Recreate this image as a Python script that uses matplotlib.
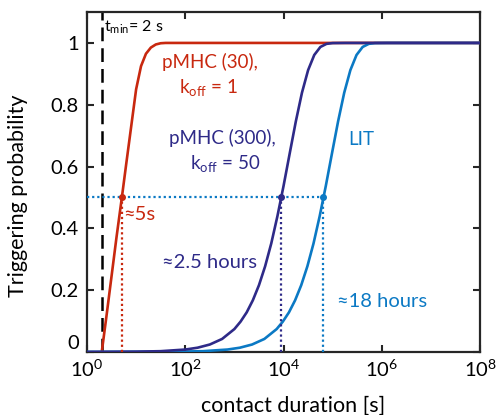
import numpy as np
import matplotlib
matplotlib.use("Agg")
from matplotlib import pyplot as plt

plt.rcParams["font.family"] = ["Lato", "DejaVu Sans"]
plt.rcParams["mathtext.fontset"] = "custom"
plt.rcParams["mathtext.rm"] = "Lato"
plt.rcParams["mathtext.it"] = "Lato:italic"

# curves: log10(contact duration) vs triggering probability
red_logt = [0.301, 0.4, 0.5, 0.6, 0.71, 0.8, 0.9, 1.0, 1.1, 1.2, 1.3, 1.4, 1.5, 1.6, 8.0]
red_p = [0.0, 0.12, 0.245, 0.37, 0.5, 0.61, 0.73, 0.85, 0.925, 0.965, 0.985, 0.995, 0.999, 1.0, 1.0]

navy_logt = [0, 1, 1.5, 2, 2.25, 2.5, 2.75, 3, 3.125, 3.25, 3.375, 3.5, 3.625, 3.75,
             3.875, 4, 4.125, 4.25, 4.375, 4.5, 4.625, 4.75, 4.875, 5, 5.25, 8]
navy_p = [0, 0.0008, 0.0024, 0.0077, 0.0136, 0.024, 0.042, 0.074, 0.098, 0.128, 0.167,
          0.216, 0.277, 0.351, 0.439, 0.537, 0.642, 0.746, 0.839, 0.912, 0.961, 0.987,
          0.997, 0.9995, 1, 1]

lit_logt = [0, 1.86, 2.36, 2.86, 3.11, 3.36, 3.61, 3.86, 3.985, 4.11, 4.235, 4.36, 4.485,
            4.61, 4.735, 4.86, 4.985, 5.11, 5.235, 5.36, 5.485, 5.61, 5.735, 5.86, 6.11, 8]
lit_p = [0, 0.0008, 0.0024, 0.0077, 0.0136, 0.024, 0.042, 0.074, 0.098, 0.128, 0.167,
         0.216, 0.277, 0.351, 0.439, 0.537, 0.642, 0.746, 0.839, 0.912, 0.961, 0.987,
         0.997, 0.9995, 1, 1]

t_min = 2
half_times = [5.1, 9000, 65000]  # where each curve hits 0.5
xticks = [1e0, 1e2, 1e4, 1e6, 1e8]
xtick_labels = [r"$10^{0}$", r"$10^{2}$", r"$10^{4}$", r"$10^{6}$", r"$10^{8}$"]
yticks = [0, 0.2, 0.4, 0.6, 0.8, 1]
ytick_labels = ["0", "0.2", "0.4", "0.6", "0.8", "1"]

RED = "#c8280f"
NAVY = "#2e2a88"
LIGHT = "#0b79c4"

fig = plt.figure(figsize=(4.97, 4.15), dpi=100)
ax = fig.add_axes([0.175, 0.152, 0.791, 0.819])

ax.plot(10 ** np.array(red_logt), red_p, color=RED, lw=1.9, zorder=3)
ax.plot(10 ** np.array(lit_logt), lit_p, color=LIGHT, lw=1.9, zorder=3)
ax.plot(10 ** np.array(navy_logt), navy_p, color=NAVY, lw=1.9, zorder=4)

# t_min marker
ax.axvline(t_min, color="black", lw=1.8, dashes=(5.5, 2.8), zorder=2)

# half-probability guides
dot = (0, (1, 1.3))
ax.plot([1, half_times[2]], [0.5, 0.5], color=LIGHT, lw=1.6, linestyle=dot, zorder=5)
for t, c in zip(half_times, [RED, NAVY, LIGHT]):
    ax.plot([t, t], [0, 0.5], color=c, lw=1.6, linestyle=dot, zorder=5)
    ax.plot([t], [0.5], "o", color=c, ms=4, zorder=6)

koff = r"$\mathrm{k_{off}}$"
ax.text(2.22, 1.036, r"$\mathrm{t_{min}}$= 2 s", fontsize=11.5, color="black", va="baseline")
ax.text(319, 0.919, "pMHC (30),", fontsize=13.5, color=RED, ha="center", va="baseline")
ax.text(290, 0.837, koff + " = 1", fontsize=13.5, color=RED, ha="center", va="baseline")
ax.text(560, 0.673, "pMHC (300),", fontsize=13.5, color=NAVY, ha="center", va="baseline")
ax.text(645, 0.592, koff + " = 50", fontsize=13.5, color=NAVY, ha="center", va="baseline")
ax.text(2.06e5, 0.67, "LIT", fontsize=13.5, color=LIGHT, va="baseline")
ax.text(5.4, 0.427, "≈5s", fontsize=14.5, color=RED, va="baseline")
ax.text(33.6, 0.272, "≈2.5 hours", fontsize=14.5, color=NAVY, va="baseline")
ax.text(1.23e5, 0.146, "≈18 hours", fontsize=14.5, color=LIGHT, va="baseline")

ax.set_xscale("log")
ax.set_xlim(1, 1e8)
ax.set_ylim(0, 1.1)
ax.set_xticks(xticks)
ax.set_xticklabels(xtick_labels)
ax.minorticks_off()
ax.set_yticks(yticks)
ax.set_yticklabels(ytick_labels)
ax.tick_params(direction="in", length=5, width=1.5, labelsize=14.5, color="#262626",
               top=True, right=True)
ax.tick_params(axis="x", pad=5)
ax.tick_params(axis="y", pad=6)
# keep the "0" label above the x tick labels, as in the original
ax.get_yticklabels()[0].set_va("bottom")
for s in ax.spines.values():
    s.set_linewidth(1.6)
    s.set_color("#262626")

ax.set_xlabel("contact duration [s]", fontsize=15.5)
ax.set_ylabel("Triggering probability", fontsize=15.5)
ax.xaxis.set_label_coords(0.525, -0.128)
ax.yaxis.set_label_coords(-0.15, 0.46)

fig.savefig("out.png", dpi=100)
